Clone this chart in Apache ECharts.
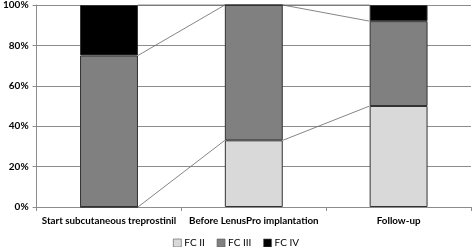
<!DOCTYPE html>
<html>
<head>
<meta charset="utf-8">
<script src="https://cdn.jsdelivr.net/npm/echarts@6/dist/echarts.min.js"></script>
<style>
  html, body { margin: 0; padding: 0; background: #fff; }
  #chart { width: 472px; height: 247px; }
</style>
</head>
<body>
<div id="chart"></div>
<script>
const categories = ["Start subcutaneous treprostinil", "Before LenusPro implantation", "Follow-up"];
const fcII = [0, 33, 50];
const fcIII = [75, 67, 42];
const fcIV = [25, 0, 8];
const yTicks = [0, 20, 40, 60, 80, 100];

const series = [fcII, fcIII, fcIV];
const names = ["FC II", "FC III", "FC IV"];
const colors = ["#d9d9d9", "#808080", "#000000"];
const barRatio = 0.4;

// cumulative tops per stack level, used for the connector lines
const cum = series.map((_, k) =>
  categories.map((_, i) => series.slice(0, k + 1).reduce((s, arr) => s + arr[i], 0))
);
const linkData = [];
cum.forEach((row, k) => {
  for (let i = 0; i < categories.length - 1; i++) {
    linkData.push([i, row[i], row[i + 1], k]);
  }
});

const chart = echarts.init(document.getElementById("chart"), null, { renderer: "canvas" });
chart.setOption({
  animation: false,
  textStyle: { fontFamily: "Lato" },
  grid: { left: 34, right: 1, top: 4, bottom: 40, containLabel: false },
  legend: {
    top: 238,
    left: "center",
    padding: 0,
    itemWidth: 8,
    itemHeight: 8,
    itemGap: 12,
    textStyle: { fontSize: 10, color: "#000", fontFamily: "Lato", padding: [0, 0, 0, -2] },
    data: names.map((n, k) => ({ name: n, icon: "rect", itemStyle: { color: colors[k], borderColor: "#555", borderWidth: 0.6 } }))
  },
  xAxis: {
    type: "category",
    data: categories,
    boundaryGap: true,
    axisLine: { lineStyle: { color: "#8c8c8c", width: 1 } },
    axisTick: { show: true, length: 4, lineStyle: { color: "#8c8c8c" } },
    axisLabel: { color: "#000", fontSize: 9.8, fontWeight: "bold", margin: 9, fontFamily: "Lato", interval: 0, hideOverlap: false }
  },
  yAxis: {
    type: "value",
    min: 0,
    max: 100,
    interval: 20,
    axisLine: { show: true, lineStyle: { color: "#8c8c8c" } },
    axisTick: { show: true, length: 4, lineStyle: { color: "#8c8c8c" } },
    splitLine: { lineStyle: { color: "#8c8c8c", width: 1 } },
    axisLabel: {
      color: "#000", fontSize: 10, fontWeight: "bold", margin: 8, fontFamily: "Lato",
      formatter: v => yTicks.includes(v) ? v + "%" : ""
    }
  },
  series: series.map((arr, k) => ({
    name: names[k],
    type: "bar",
    stack: "fc",
    data: arr,
    barWidth: (barRatio * 100) + "%",
    itemStyle: { color: colors[k], borderColor: "#333", borderWidth: 1 },
    z: 3
  })).concat([{
    type: "custom",
    data: linkData,
    z: 4,
    silent: true,
    renderItem: (params, api) => {
      const i = api.value(0);
      const band = api.size([1, 0])[0];
      const half = band * barRatio / 2;
      const p1 = api.coord([i, api.value(1)]);
      const p2 = api.coord([i + 1, api.value(2)]);
      return {
        type: "line",
        shape: { x1: p1[0] + half, y1: p1[1], x2: p2[0] - half, y2: p2[1] },
        style: { stroke: "#666", lineWidth: 0.8 }
      };
    }
  }])
});
</script>
</body>
</html>
